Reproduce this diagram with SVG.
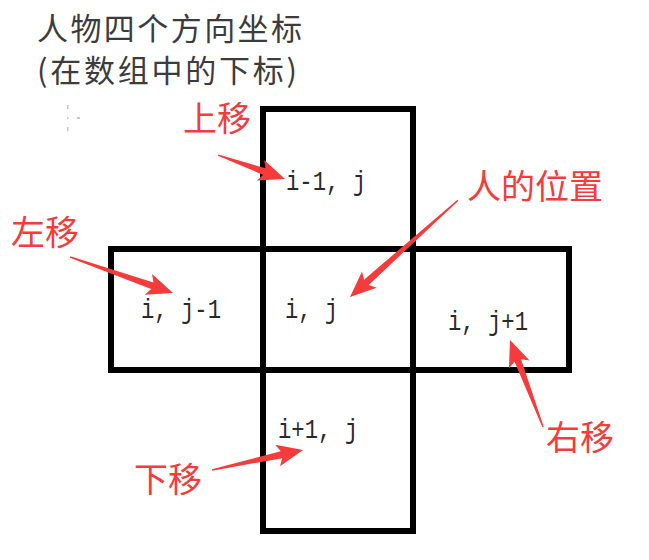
<svg xmlns="http://www.w3.org/2000/svg" width="649" height="560" viewBox="0 0 649 560">
<style>
.cell{fill:none;stroke:#000;stroke-width:6;stroke-linejoin:miter}
.coord{font-family:"Liberation Mono",monospace;font-size:28px;fill:#2a2a2a}
.title{font-family:"Noto Sans CJK SC",sans-serif;font-size:31px;fill:#3c3c3c}
.lbl{font-family:"Noto Sans CJK SC",sans-serif;font-size:34px;fill:#f53b3b}
.arr{fill:#f53b3b}
.speck{fill:#c8c8c8}
</style>
<rect width="649" height="560" fill="#fff"/>
<g id="title">
<text class="title" x="37" y="40" textLength="265">人物四个方向坐标</text>
<text class="title" x="37" y="82" textLength="260">(在数组中的下标)</text>
<rect class="speck" x="67" y="105" width="1.5" height="4"/>
<rect class="speck" x="67" y="117" width="1.5" height="2"/>
<rect class="speck" x="77" y="117" width="3" height="2"/>
<rect class="speck" x="67" y="127" width="1.5" height="4"/>
</g>
<g id="cell-up">
<rect class="cell" x="263" y="109" width="150" height="140"/>
<text class="coord" x="286" y="190" textLength="80" lengthAdjust="spacingAndGlyphs">i-1, j</text>
</g>
<g id="cell-left">
<rect class="cell" x="111" y="249" width="152" height="121"/>
<text class="coord" x="141" y="318" textLength="80" lengthAdjust="spacingAndGlyphs">i, j-1</text>
</g>
<g id="cell-center">
<rect class="cell" x="263" y="249" width="150" height="121"/>
<text class="coord" x="285" y="318" textLength="53" lengthAdjust="spacingAndGlyphs">i, j</text>
</g>
<g id="cell-right">
<rect class="cell" x="413" y="249" width="156" height="121"/>
<text class="coord" x="448" y="330" textLength="80" lengthAdjust="spacingAndGlyphs">i, j+1</text>
</g>
<g id="cell-down">
<rect class="cell" x="263" y="370" width="150" height="161"/>
<text class="coord" x="278" y="438" textLength="80" lengthAdjust="spacingAndGlyphs">i+1, j</text>
</g>
<g id="labels">
<text class="lbl" x="183" y="131">上移</text>
<text class="lbl" x="11" y="245">左移</text>
<text class="lbl" x="467" y="199">人的位置</text>
<text class="lbl" x="546" y="450">右移</text>
<text class="lbl" x="134" y="492">下移</text>
</g>
<g id="connectors">
<polygon class="arr" transform="translate(285,179) rotate(19.7)" points="-71,-0.7 -22,-3.5 -26,-11 0,0 -26,11 -22,3.5 -71,0.7"/>
<polygon class="arr" transform="translate(173,293) rotate(19.3)" points="-109,-0.7 -22,-3.5 -26,-11 0,0 -26,11 -22,3.5 -109,0.7"/>
<polygon class="arr" transform="translate(350,297) rotate(138.1)" points="-145,-0.7 -22,-3.5 -26,-11 0,0 -26,11 -22,3.5 -145,0.7"/>
<polygon class="arr" transform="translate(510,340) rotate(-110.8)" points="-93,-0.7 -22,-3.5 -26,-11 0,0 -26,11 -22,3.5 -93,0.7"/>
<polygon class="arr" transform="translate(303,450) rotate(-12.4)" points="-93,-0.7 -22,-3.5 -26,-11 0,0 -26,11 -22,3.5 -93,0.7"/>
</g>
</svg>
